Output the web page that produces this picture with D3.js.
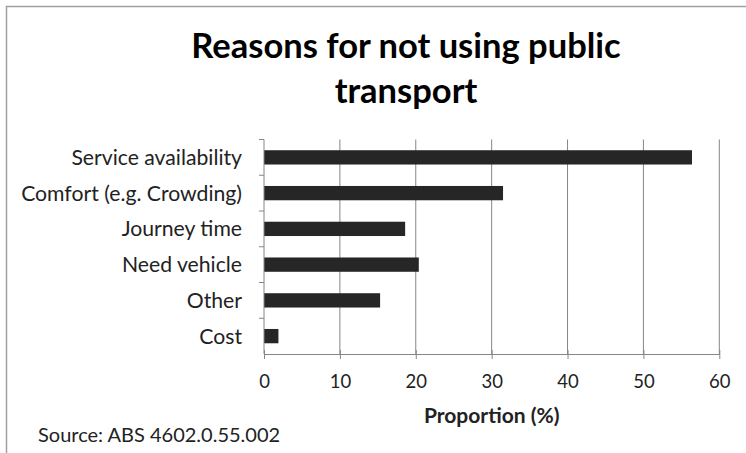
<!DOCTYPE html>
<html><head><meta charset="utf-8">
<script src="https://cdn.jsdelivr.net/npm/d3@7"></script>
<style>body{margin:0;background:#fff}svg{display:block}</style>
</head><body>
<script>
const categories = ["Service availability","Comfort (e.g. Crowding)","Journey time","Need vehicle","Other","Cost"];
const values = [56.4, 31.5, 18.6, 20.4, 15.3, 1.9];
const xTicks = [0,10,20,30,40,50,60];
const titleLines = ["Reasons for not using public","transport"];
const xLabel = "Proportion (%)";
const sourceText = "Source: ABS 4602.0.55.002";

const W=746,H=453;
const svg=d3.select("body").append("svg").attr("width",W).attr("height",H);
const font="Lato, 'Open Sans', sans-serif";
const axisCol="#868686";
svg.append("rect").attr("x",6.5).attr("y",6.5).attr("width",W+10).attr("height",H+10)
  .attr("fill","#fff").attr("stroke","#a0a0a0").attr("stroke-width",1.5);

const pL=264,pR=719.3,pT=139.5,pB=354;
const x=d3.scaleLinear().domain([0,60]).range([pL,pR]);
const y=d3.scaleBand().domain(categories).range([pT,pB]).paddingInner(0.6).paddingOuter(0.3);

// gridlines
svg.append("g").selectAll("line").data(xTicks.filter(t=>t>0)).join("line")
  .attr("x1",d=>x(d)).attr("x2",d=>x(d)).attr("y1",pT).attr("y2",pB)
  .attr("stroke",axisCol).attr("stroke-width",1);

// bars
svg.append("g").selectAll("rect").data(categories).join("rect")
  .attr("x",x(0)).attr("y",d=>y(d)).attr("height",y.bandwidth())
  .attr("width",(d,i)=>x(values[i])-x(0)).attr("fill","#262626");

// x axis
const xa=svg.append("g").attr("transform",`translate(0,${pB})`)
  .call(d3.axisBottom(x).tickValues(xTicks).tickSize(6).tickPadding(15).tickSizeOuter(0));
xa.select(".domain").attr("stroke",axisCol);
xa.selectAll(".tick line").attr("stroke",axisCol).attr("y1",-4).attr("y2",5);
xa.selectAll("text").attr("font-family",font).attr("font-size",18.5).attr("fill","#222");

// y axis
const ya=svg.append("g").attr("transform",`translate(${pL},0)`);
ya.append("line").attr("x1",0).attr("x2",0).attr("y1",pT).attr("y2",pB).attr("stroke",axisCol);
const step=y.step();
const bounds=d3.range(categories.length).map(i=>pT+i*step);
ya.selectAll("line.t").data(bounds).join("line").attr("class","t")
  .attr("x1",-5).attr("x2",0).attr("y1",d=>d).attr("y2",d=>d).attr("stroke",axisCol);
ya.selectAll("text").data(categories).join("text")
  .attr("x",-22).attr("y",d=>y(d)+y.bandwidth()/2).attr("dy","0.35em")
  .attr("text-anchor","end").attr("font-family",font).attr("font-size",21.2).attr("fill","#222")
  .text(d=>d);

// title
svg.append("g").selectAll("text").data(titleLines).join("text")
  .attr("x",406).attr("y",(d,i)=>58+i*45).attr("text-anchor","middle")
  .attr("font-family",font).attr("font-weight","bold").attr("font-size",34.5).attr("fill","#000")
  .text(d=>d);

svg.append("text").attr("x",(pL+pR)/2).attr("y",423).attr("text-anchor","middle")
  .attr("font-family",font).attr("font-weight","bold").attr("font-size",21).attr("fill","#222").text(xLabel);

svg.append("text").attr("x",38).attr("y",442)
  .attr("font-family",font).attr("font-size",20).attr("fill","#222").text(sourceText);
</script>
</body></html>
